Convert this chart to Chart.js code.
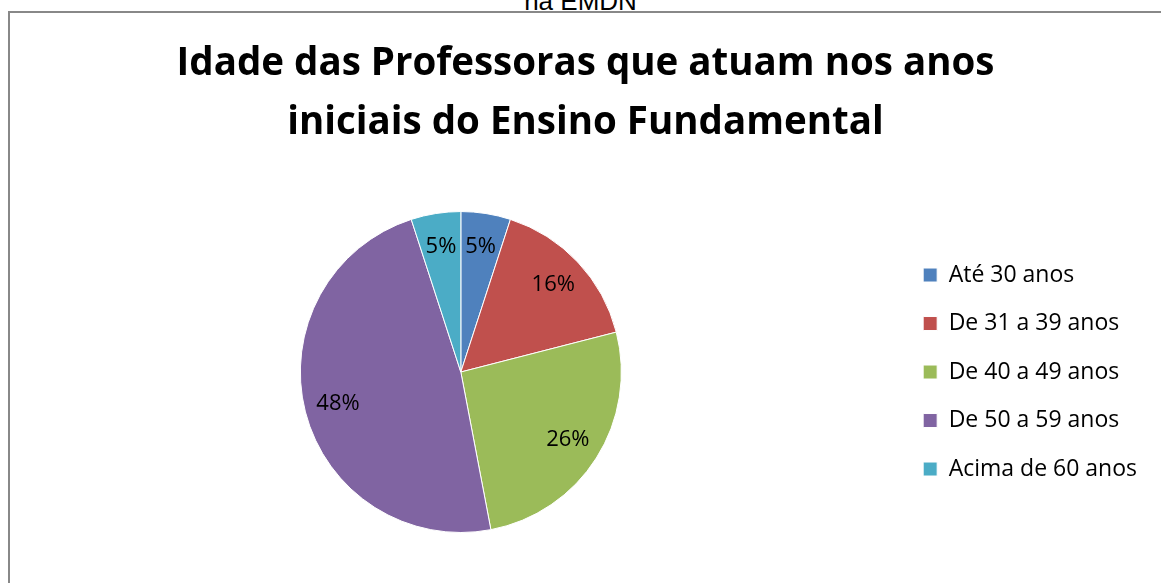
<!DOCTYPE html>
<html lang="pt">
<head>
    <meta charset="UTF-8">
    <script src="https://cdn.jsdelivr.net/npm/chart.js"></script>
    <title>Idade das Professoras</title>
    <style>
        html, body { margin: 0; padding: 0; background: #fff; overflow: hidden; }
        #top-text {
            position: absolute; left: 0; width: 1161px; top: -14px;
            text-align: center; font-family: "Liberation Sans", Arial, sans-serif;
            font-size: 26px; color: #000;
        }
        #frame {
            position: absolute; left: 8px; top: 11px; width: 1170px; height: 600px;
            border: 2px solid #888; box-sizing: border-box;
        }
        #wrap { position: absolute; left: 0; top: 0; width: 1161px; height: 583px; }
    </style>
</head>
<body>
<div id="top-text">na EMDN</div>
<div id="frame"></div>
<div id="wrap"><canvas id="myChart"></canvas></div>
<script>
var faixas = ['Até 30 anos', 'De 31 a 39 anos', 'De 40 a 49 anos', 'De 50 a 59 anos', 'Acima de 60 anos'];
var percentuais = [5, 16, 26, 48, 5];
var cores = ['#4F81BD', '#C0504D', '#9BBB59', '#8064A2', '#4BACC6'];
var titulo = ['Idade das Professoras que atuam nos anos', 'iniciais do Ensino Fundamental'];

// escreve o percentual dentro de cada fatia
var rotulos = {
    id: 'rotulos',
    afterDatasetsDraw: function (chart) {
        var ctx = chart.ctx;
        var arcs = chart.getDatasetMeta(0).data;
        ctx.save();
        ctx.font = '22px "Open Sans", sans-serif';
        ctx.fillStyle = '#000';
        ctx.textAlign = 'center';
        ctx.textBaseline = 'middle';
        for (var i = 0; i < arcs.length; i++) {
            var a = arcs[i];
            var meio = (a.startAngle + a.endAngle) / 2;
            var r = a.outerRadius * 0.79;
            ctx.fillText(percentuais[i] + '%', a.x + Math.cos(meio) * r, a.y + Math.sin(meio) * r);
        }
        ctx.restore();
    }
};

var ctx = document.getElementById('myChart').getContext('2d');
var myChart = new Chart(ctx, {
    type: 'pie',
    data: {
        labels: faixas,
        datasets: [{
            data: percentuais,
            backgroundColor: cores,
            borderColor: '#ffffff',
            borderWidth: 1
        }]
    },
    options: {
        responsive: true,
        maintainAspectRatio: false,
        animation: false,
        layout: { padding: { left: 24, right: 14, top: 35, bottom: 50 } },
        plugins: {
            tooltip: { enabled: false },
            title: {
                display: true,
                text: titulo,
                color: '#000',
                font: { family: '"Open Sans", sans-serif', size: 38.5, weight: 'bold', lineHeight: 1.52 },
                padding: { top: 0, bottom: 59 }
            },
            legend: {
                position: 'right',
                fullSize: false,
                labels: {
                    color: '#000',
                    font: { family: '"Open Sans", sans-serif', size: 23 },
                    boxWidth: 14,
                    boxHeight: 14,
                    padding: 25.5
                }
            }
        }
    },
    plugins: [rotulos]
});
</script>
</body>
</html>
